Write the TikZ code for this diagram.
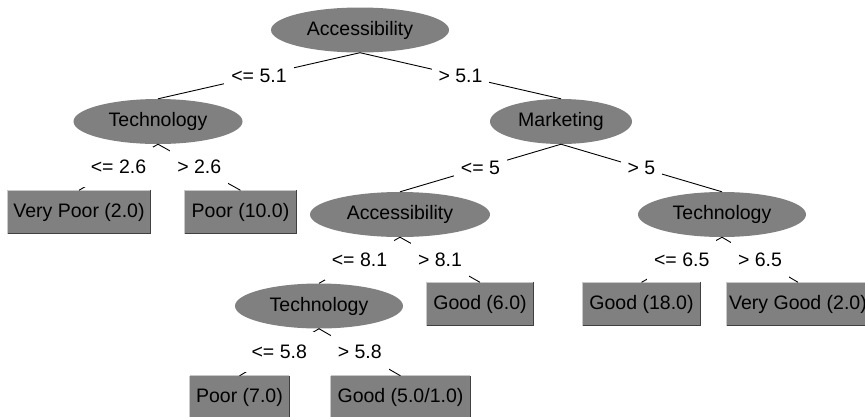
\documentclass[tikz,border=0pt]{standalone}
\usepackage{fontspec}
\setmainfont{Liberation Sans}
\usetikzlibrary{shapes.geometric}
\definecolor{nodegray}{RGB}{128,128,128}
\definecolor{rimlight}{RGB}{200,200,200}
\definecolor{rimdark}{RGB}{64,64,64}
\begin{document}
\begin{tikzpicture}[x=1pt, y=-1pt,
  font=\fontsize{19.5}{22}\selectfont,
  split/.style={ellipse, fill=nodegray, inner sep=0pt, minimum height=45pt},
  leaf/.style={rectangle, fill=nodegray, minimum height=43pt, inner sep=0pt,
    append after command={
      (\tikzlastnode.south west) edge[rimlight, line width=1pt] (\tikzlastnode.north west)
      (\tikzlastnode.north west) edge[rimlight, line width=1pt] (\tikzlastnode.north east)
      (\tikzlastnode.north east) edge[rimdark, line width=1pt] (\tikzlastnode.south east)
      (\tikzlastnode.south east) edge[rimdark, line width=1pt] (\tikzlastnode.south west)}},
  branch/.style={line width=0.9pt, black},
  cond/.style={fill=white, inner xsep=7pt, inner ysep=0pt, minimum height=40pt}]
\useasboundingbox (0,0) rectangle (865,416);

% decision nodes
\node[split, minimum width=178pt] (acc1) at (360,30)    {Accessibility};
\node[split, minimum width=169pt] (tec1) at (158,121.5) {Technology};
\node[split, minimum width=142pt] (mkt)  at (561,121.5) {Marketing};
\node[split, minimum width=180pt] (acc2) at (400,214.5) {Accessibility};
\node[split, minimum width=168pt] (tec2) at (722,214.5) {Technology};
\node[split, minimum width=168pt] (tec3) at (319,306)   {Technology};

% leaves
\node[leaf, minimum width=142pt] (vpoor) at (79,212)    {Very Poor (2.0)};
\node[leaf, minimum width=111pt] (poor1) at (240.5,212) {Poor (10.0)};
\node[leaf, minimum width=106pt] (good6) at (480,304)   {Good (6.0)};
\node[leaf, minimum width=117pt] (good18) at (641.5,304) {Good (18.0)};
\node[leaf, minimum width=142pt] (vgood) at (798,304)   {Very Good (2.0)};
\node[leaf, minimum width=99pt]  (poor7) at (239.5,397.5) {Poor (7.0)};
\node[leaf, minimum width=139pt] (good5) at (400.5,397.5) {Good (5.0/1.0)};

% branches with their split conditions
\draw[branch] (acc1.south) -- node[cond] (c1) {<= 5.1} (tec1.north);
\draw[branch] (acc1.south) -- node[cond] (c2) {> 5.1}  (mkt.north);
\draw[branch] (tec1.south) -- node[cond] (c3) {<= 2.6} (vpoor.north);
\draw[branch] (tec1.south) -- node[cond] (c4) {> 2.6}  (poor1.north);
\draw[branch] (mkt.south)  -- node[cond] (c5) {<= 5}   (acc2.north);
\draw[branch] (mkt.south)  -- node[cond] (c6) {> 5}    (tec2.north);
\draw[branch] (acc2.south) -- node[cond] (c7) {<= 8.1} (tec3.north);
\draw[branch] (acc2.south) -- node[cond] (c8) {> 8.1}  (good6.north);
\draw[branch] (tec2.south) -- node[cond] (c9) {<= 6.5} (good18.north);
\draw[branch] (tec2.south) -- node[cond] (c10) {> 6.5} (vgood.north);
\draw[branch] (tec3.south) -- node[cond] (c11) {<= 5.8} (poor7.north);
\draw[branch] (tec3.south) -- node[cond] (c12) {> 5.8}  (good5.north);
\end{tikzpicture}
\end{document}
